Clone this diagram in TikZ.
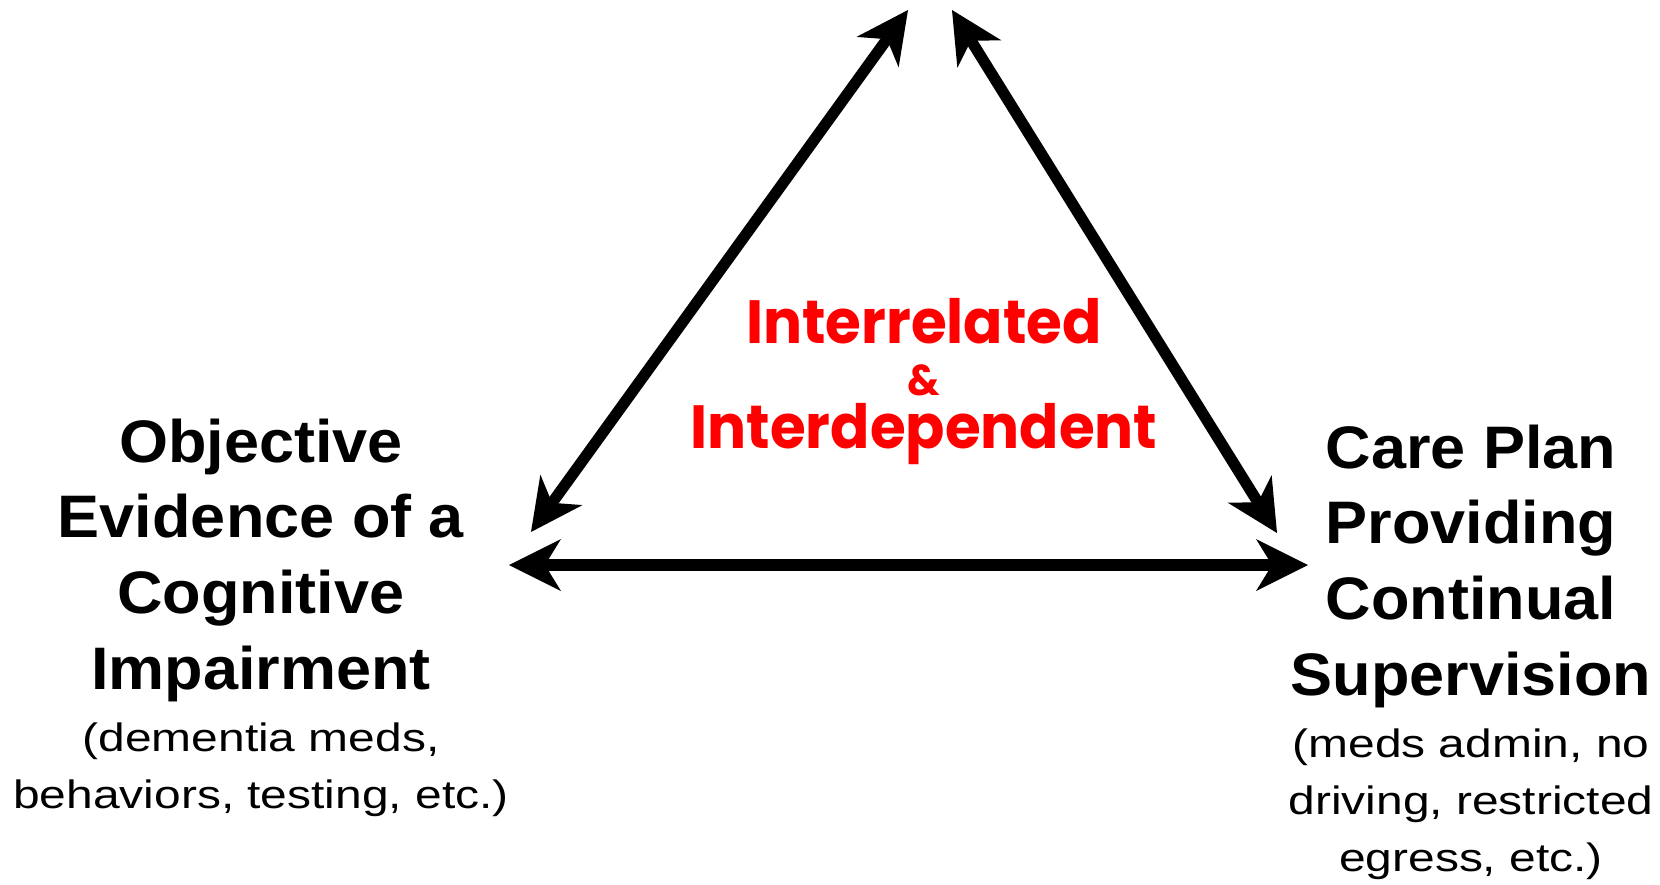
\documentclass[tikz,border=0pt]{standalone}
\usepackage{fontspec}
\setmainfont{Liberation Sans}
\newfontfamily\headfont{Liberation Sans}[FakeStretch=1.05]
\newfontfamily\notefont{Liberation Sans}[FakeStretch=1.21]
\newfontfamily\linkfont{Poppins}[FakeStretch=0.95]
\usetikzlibrary{arrows.meta}
\definecolor{linkred}{HTML}{FF0000}

\begin{document}
\begin{tikzpicture}[x=0.5pt,y=-0.5pt,
  every node/.style={inner sep=0pt,align=center},
  hd/.style={font=\headfont\bfseries\fontsize{30}{37.8}\selectfont},
  nt/.style={font=\notefont\fontsize{19.8}{28.5}\selectfont},
  lk/.style={text=linkred,font=\linkfont\bfseries\fontsize{30.5}{26.25}\selectfont},
  ar/.style={line width=5.6pt,<->,
    >={Stealth[length=26pt,width=26pt,inset=8pt,line width=0pt]}}]
\useasboundingbox (0,0) rectangle (1660,884);
\coordinate (apexL) at (908,10); \coordinate (apexR) at (952,10);
\coordinate (legL) at (531,532); \coordinate (legR) at (1277,533);
\coordinate (baseL) at (509,565); \coordinate (baseR) at (1308,565);
\node[hd,anchor=base] (evidence) at (261,689)
  {Objective\\Evidence of a\\Cognitive\\Impairment};
\node[nt,anchor=base] (evidencenote) at (261,808)
  {(dementia meds,\\behaviors, testing, etc.)};
\node[hd,anchor=base] (careplan) at (1471,695)
  {Care Plan\\Providing\\Continual\\Supervision};
\node[nt,anchor=base] (careplannote) at (1471,871)
  {(meds admin, no\\driving, restricted\\egress, etc.)};
\node[lk,anchor=base] (link) at (924,448)
  {Interrelated\\{\fontsize{21.5}{26.25}\selectfont\&}\\Interdependent};
\draw[ar] (apexL) -- (legL);
\draw[ar] (apexR) -- (legR);
\draw[ar] (baseL) -- (baseR);
\end{tikzpicture}
\end{document}
